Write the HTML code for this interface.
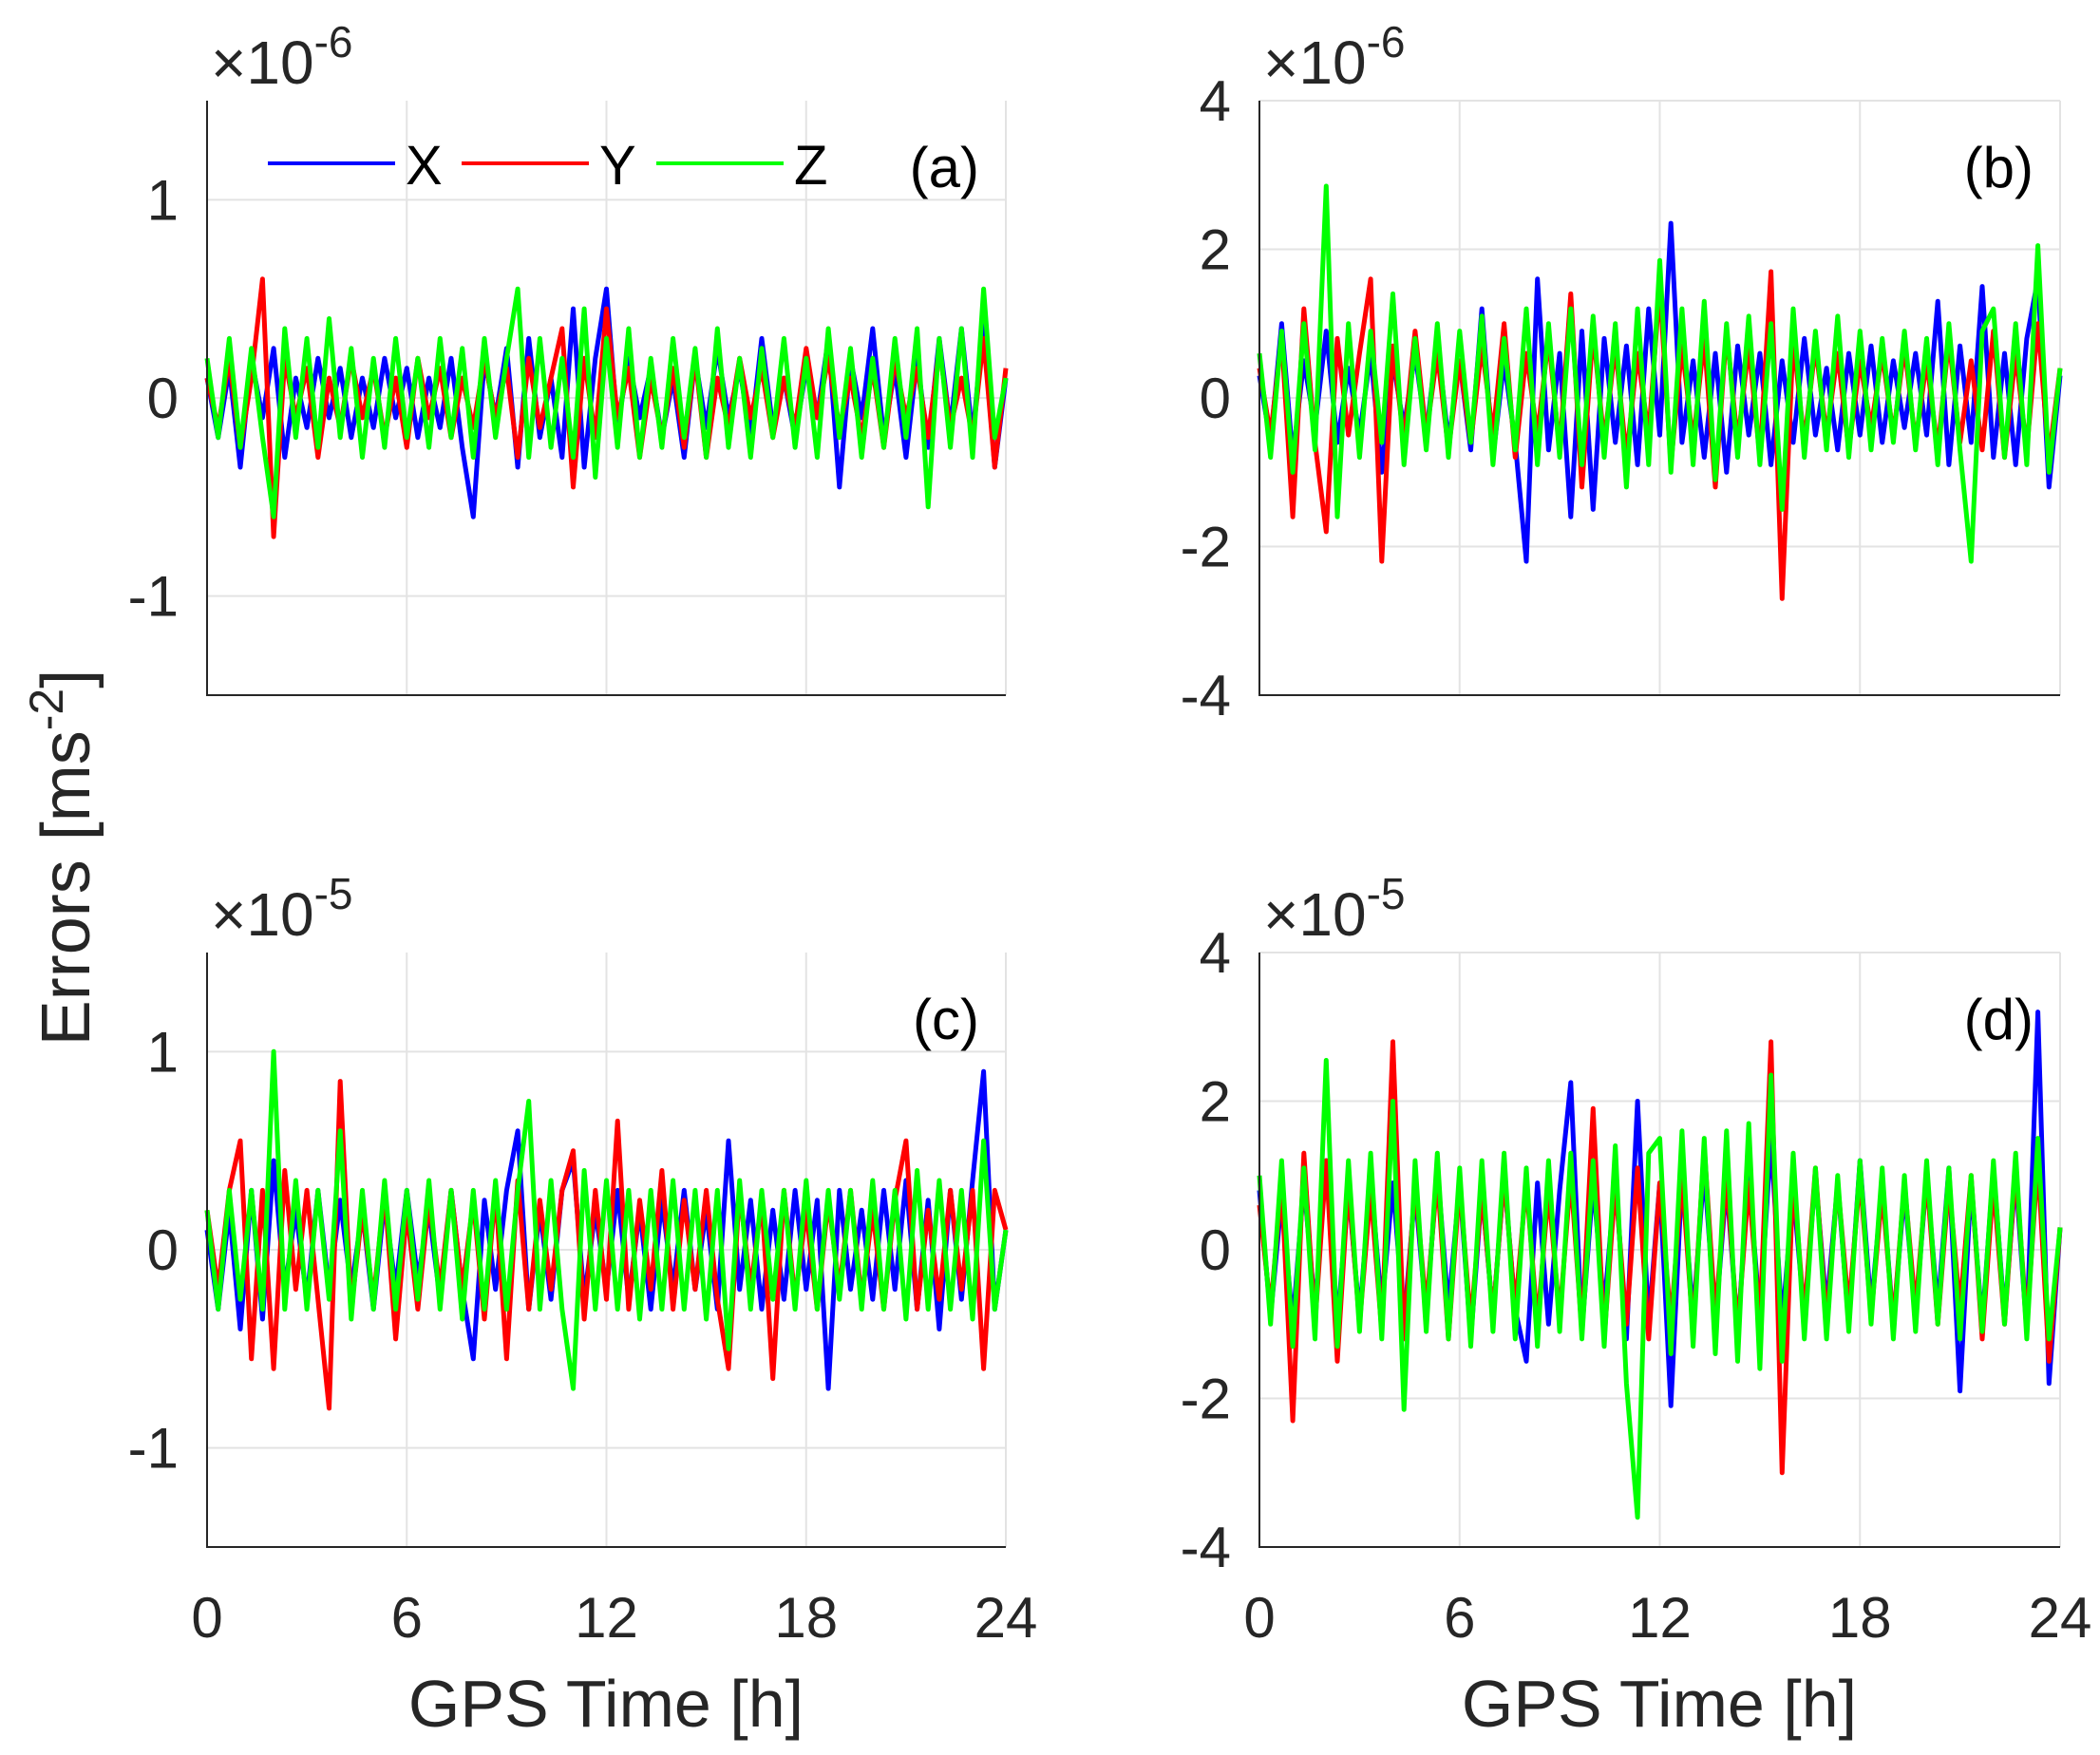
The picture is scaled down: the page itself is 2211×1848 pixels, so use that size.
<!DOCTYPE html>
<html><head><meta charset="utf-8"><style>
html,body{margin:0;padding:0;background:#fff}
svg{display:block;font-family:"Liberation Sans",sans-serif}
</style></head><body>
<svg id="fig" width="2211" height="1848" viewBox="0 0 2211 1848" xmlns="http://www.w3.org/2000/svg">
<text transform="translate(94,903) rotate(-90)" text-anchor="middle" font-size="72" fill="#262626">Errors [ms<tspan font-size="50" dy="-28">-2</tspan><tspan dy="28">]</tspan></text>
<text x="638" y="1818" text-anchor="middle" font-size="70" fill="#262626">GPS Time [h]</text>
<text x="1747" y="1818" text-anchor="middle" font-size="70" fill="#262626">GPS Time [h]</text>
</svg>
<script>
const hours=[0,6,12,18,24];
const aX=[0.1,-0.2,0.15,-0.35,0.2,-0.1,0.25,-0.3,0.1,-0.15,0.2,-0.1,0.15,-0.2,0.1,-0.15,0.2,-0.1,0.15,-0.2,0.1,-0.15,0.2,-0.25,-0.6,0.2,-0.1,0.25,-0.35,0.3,-0.2,0.1,-0.3,0.45,-0.35,0.2,0.55,-0.15,0.2,-0.1,0.15,-0.2,0.1,-0.3,0.2,-0.15,0.25,-0.1,0.15,-0.2,0.3,-0.15,0.1,-0.2,0.15,-0.1,0.3,-0.45,0.2,-0.1,0.35,-0.2,0.15,-0.3,0.2,-0.25,0.3,-0.15,0.35,-0.2,0.4,-0.35,0.1];
const aY=[0.1,-0.15,0.2,-0.25,0.1,0.6,-0.7,0.2,-0.1,0.15,-0.3,0.1,-0.15,0.2,-0.1,0.15,-0.2,0.1,-0.25,0.2,-0.1,0.15,-0.2,0.1,-0.15,0.2,-0.1,0.15,-0.3,0.2,-0.15,0.1,0.35,-0.45,0.2,-0.2,0.45,-0.1,0.15,-0.3,0.1,-0.2,0.15,-0.25,0.2,-0.3,0.1,-0.15,0.2,-0.1,0.15,-0.2,0.1,-0.15,0.25,-0.1,0.2,-0.15,0.1,-0.2,0.15,-0.25,0.2,-0.1,0.15,-0.2,0.25,-0.15,0.1,-0.2,0.3,-0.35,0.15];
const aZ=[0.2,-0.2,0.3,-0.25,0.25,-0.2,-0.6,0.35,-0.2,0.3,-0.25,0.4,-0.2,0.25,-0.3,0.2,-0.25,0.3,-0.2,0.2,-0.25,0.3,-0.2,0.25,-0.3,0.3,-0.2,0.2,0.55,-0.3,0.3,-0.25,0.2,-0.3,0.45,-0.4,0.3,-0.25,0.35,-0.3,0.2,-0.25,0.3,-0.2,0.25,-0.3,0.35,-0.25,0.2,-0.3,0.25,-0.2,0.3,-0.25,0.2,-0.3,0.35,-0.2,0.25,-0.3,0.2,-0.25,0.3,-0.2,0.35,-0.55,0.3,-0.25,0.35,-0.3,0.55,-0.2,0.1];
const bX=[0.3,-0.6,1.0,-0.8,0.5,-0.4,0.9,-0.6,0.4,-0.5,0.6,-1.0,0.5,-0.4,0.6,-0.5,0.8,-0.6,0.5,-0.7,1.2,-0.8,0.5,-0.6,-2.2,1.6,-0.7,0.6,-1.6,0.9,-1.5,0.8,-0.6,0.7,-0.9,1.2,-0.5,2.35,-0.6,0.5,-0.8,0.6,-1.0,0.7,-0.5,0.6,-0.9,0.5,-0.6,0.8,-0.5,0.4,-0.7,0.6,-0.5,0.7,-0.6,0.5,-0.4,0.6,-0.5,1.3,-0.9,0.7,-0.6,1.5,-0.8,0.6,-0.9,0.8,1.6,-1.2,0.3];
const bY=[0.4,-0.5,0.8,-1.6,1.2,-0.6,-1.8,0.8,-0.5,0.6,1.6,-2.2,0.7,-0.6,0.9,-0.5,0.6,-0.7,0.5,-0.6,0.7,-0.5,1.0,-0.8,0.6,-0.5,0.8,-0.7,1.4,-1.2,0.9,-0.6,0.7,-0.8,0.6,-0.5,1.5,-0.9,0.7,-0.6,0.8,-1.2,0.9,-0.6,0.7,-0.8,1.7,-2.7,0.8,-0.6,0.7,-0.5,0.6,-0.7,0.5,-0.4,0.6,-0.5,0.7,-0.6,0.5,-0.7,0.8,-0.6,0.5,-0.7,0.9,-0.8,0.6,-0.7,1.0,-0.8,0.4];
const bZ=[0.6,-0.8,0.9,-1.0,1.0,-0.7,2.85,-1.6,1.0,-0.8,0.9,-0.6,1.4,-0.9,0.8,-0.7,1.0,-0.8,0.9,-0.6,1.1,-0.9,0.8,-0.7,1.2,-0.9,1.0,-0.8,1.2,-0.9,1.1,-0.8,1.0,-1.2,1.2,-0.9,1.85,-1.0,1.2,-0.9,1.3,-1.1,1.0,-0.8,1.1,-0.9,1.0,-1.5,1.2,-0.8,0.9,-0.7,1.1,-0.8,0.9,-0.7,0.8,-0.6,0.9,-0.7,0.8,-0.9,1.0,-0.7,-2.2,0.9,1.2,-0.8,1.0,-0.9,2.05,-1.0,0.4];
const cX=[0.1,-0.3,0.2,-0.4,0.3,-0.35,0.45,-0.2,0.2,-0.25,0.3,-0.2,0.25,-0.2,0.2,-0.3,0.25,-0.2,0.3,-0.15,0.2,-0.25,0.3,-0.2,-0.55,0.25,-0.2,0.3,0.6,-0.3,0.2,-0.25,0.3,0.45,-0.25,0.2,-0.2,0.3,-0.25,0.2,-0.3,0.25,-0.2,0.3,-0.2,0.2,-0.3,0.55,-0.2,0.25,-0.3,0.2,-0.25,0.3,-0.2,0.25,-0.7,0.3,-0.2,0.2,-0.25,0.3,-0.2,0.35,-0.3,0.25,-0.4,0.3,-0.25,0.35,0.9,-0.3,0.1];
const cY=[0.2,-0.2,0.3,0.55,-0.55,0.3,-0.6,0.4,-0.2,0.3,-0.25,-0.8,0.85,-0.3,0.2,-0.25,0.3,-0.45,0.2,-0.3,0.25,-0.2,0.3,-0.2,0.25,-0.35,0.3,-0.55,0.35,-0.3,0.25,-0.2,0.3,0.5,-0.35,0.3,-0.25,0.65,-0.3,0.25,-0.2,0.4,-0.3,0.25,-0.2,0.3,-0.25,-0.6,0.3,-0.2,0.25,-0.65,0.3,-0.25,0.2,-0.3,0.25,-0.2,0.3,-0.25,0.2,-0.3,0.25,0.55,-0.3,0.2,-0.25,0.3,-0.2,0.3,-0.6,0.3,0.1];
const cZ=[0.2,-0.3,0.3,-0.25,0.3,-0.3,1.0,-0.3,0.35,-0.3,0.3,-0.25,0.6,-0.35,0.3,-0.3,0.35,-0.3,0.3,-0.25,0.35,-0.3,0.3,-0.35,0.3,-0.3,0.35,-0.3,0.3,0.75,-0.3,0.35,-0.3,-0.7,0.4,-0.3,0.35,-0.3,0.3,-0.35,0.3,-0.3,0.35,-0.3,0.3,-0.35,0.3,-0.5,0.35,-0.3,0.3,-0.25,0.3,-0.3,0.35,-0.3,0.3,-0.25,0.3,-0.3,0.35,-0.3,0.3,-0.35,0.4,-0.3,0.35,-0.3,0.3,-0.35,0.55,-0.3,0.1];
const dX=[0.8,-0.9,0.7,-1.0,0.9,-0.8,1.2,-1.0,0.8,-0.9,1.0,-0.8,0.9,-1.0,0.8,-0.9,1.1,-0.8,0.9,-1.2,0.8,-0.9,1.0,-0.8,-1.5,0.9,-1.0,0.8,2.25,-1.1,0.9,-0.8,1.0,-1.2,2.0,-1.0,0.9,-2.1,1.0,-0.9,1.1,-1.0,0.9,-1.1,1.0,-0.9,1.5,-1.0,0.8,-0.9,1.0,-0.8,0.9,-1.0,1.2,-0.8,0.9,-1.0,0.8,-0.9,1.0,-0.8,1.1,-1.9,0.9,-1.0,1.1,-0.9,1.0,-1.1,3.2,-1.8,0.3];
const dY=[0.6,-0.8,0.9,-2.3,1.3,-1.0,1.2,-1.5,0.9,-1.0,0.8,-1.1,2.8,-1.2,0.9,-0.8,1.0,-1.2,0.9,-1.0,0.8,-0.9,1.0,-0.8,0.9,-1.0,0.8,-0.9,1.0,-1.1,1.9,-1.2,0.9,-1.0,1.1,-1.2,0.9,-1.0,1.0,-1.1,1.4,-0.9,1.0,-1.1,0.9,-1.0,2.8,-3.0,1.0,-0.9,1.1,-1.0,0.9,-0.8,1.0,-0.9,0.8,-1.0,0.9,-0.8,1.0,-1.0,0.9,-0.8,1.0,-1.2,0.9,-1.0,1.1,-1.0,1.2,-1.5,0.3];
const dZ=[1.0,-1.0,1.2,-1.3,1.1,-1.2,2.55,-1.3,1.2,-1.1,1.3,-1.2,2.0,-2.15,1.2,-1.1,1.3,-1.2,1.1,-1.3,1.2,-1.1,1.3,-1.2,1.1,-1.3,1.2,-1.1,1.3,-1.2,1.2,-1.3,1.4,-1.8,-3.6,1.3,1.5,-1.4,1.6,-1.3,1.5,-1.4,1.6,-1.5,1.7,-1.6,2.35,-1.5,1.3,-1.2,1.1,-1.2,1.0,-1.1,1.2,-1.0,1.1,-1.2,1.0,-1.1,1.2,-1.0,1.1,-1.2,1.0,-1.1,1.2,-1.0,1.3,-1.2,1.5,-1.2,0.3];
const ticksSmall=[-1,0,1];
const ticksBig=[-4,-2,0,2,4];

const NS="http://www.w3.org/2000/svg";
const svg=document.getElementById('fig');
function mk(tag,attrs,parent){const e=document.createElementNS(NS,tag);for(const k in attrs)e.setAttribute(k,attrs[k]);(parent||svg).appendChild(e);return e;}

const panels=[
 {id:'a',x0:218,x1:1059,y0:106,y1:732,ymin:-1.5,ymax:1.5,ticks:ticksSmall,exp:'-6',s:[aX,aY,aZ],legend:true},
 {id:'b',x0:1326,x1:2169,y0:106,y1:732,ymin:-4,ymax:4,ticks:ticksBig,exp:'-6',s:[bX,bY,bZ]},
 {id:'c',x0:218,x1:1059,y0:1003,y1:1629,ymin:-1.5,ymax:1.5,ticks:ticksSmall,exp:'-5',s:[cX,cY,cZ],xt:true},
 {id:'d',x0:1326,x1:2169,y0:1003,y1:1629,ymin:-4,ymax:4,ticks:ticksBig,exp:'-5',s:[dX,dY,dZ],xt:true}
];
const colors=['#0000ff','#ff0000','#00ff00'];
const names=['x','y','z'];
panels.forEach(p=>{
 const g=mk('g',{});
 
 
 const sx=h=>p.x0+(h-0)/24*(p.x1-p.x0);
 const sy=v=>p.y1-(v-p.ymin)/(p.ymax-p.ymin)*(p.y1-p.y0);
 hours.forEach(h=>{
  const l=mk('line',{x1:sx(h),x2:sx(h),y1:p.y0,y2:p.y1,stroke:'#e3e3e3','stroke-width':2},g);
  
  
  if(p.xt){const t=mk('text',{x:sx(h),y:1724,'text-anchor':'middle','font-size':60,fill:'#262626'},g);t.textContent=h;
   
   }
 });
 p.ticks.forEach(v=>{
  const l=mk('line',{x1:p.x0,x2:p.x1,y1:sy(v),y2:sy(v),stroke:'#e3e3e3','stroke-width':2},g);
  
  
  const t=mk('text',{x:p.x0-30,y:sy(v)+21,'text-anchor':'end','font-size':60,fill:'#262626'},g);t.textContent=String(v);
  
  
 });
 p.s.forEach((arr,k)=>{
  const n=arr.length;
  const d=arr.map((v,i)=>(i?'L':'M')+sx(i/(n-1)*24).toFixed(1)+','+sy(v).toFixed(1)).join('');
  const path=mk('path',{d:d,fill:'none',stroke:colors[k],'stroke-width':5,'stroke-linejoin':'round'},g);
  
  
 });
 const ax=mk('path',{d:`M${p.x0},${p.y0}V${p.y1}H${p.x1}`,fill:'none',stroke:'#262626','stroke-width':2},g);
 
 
 const ex=mk('text',{x:p.x0+4,y:p.y0-18,'font-size':64,fill:'#262626'},g);
 ex.innerHTML='×10<tspan font-size="46" dy="-28">'+p.exp+'</tspan>';
 
 
 const pl=mk('text',{x:p.x1-28,y:p.y0+91,'text-anchor':'end','font-size':60,fill:'#000'},g);
 pl.textContent='('+p.id+')';
 
 
 if(p.legend){
  const lx=[282,486,691],lab=['X','Y','Z'];
  lx.forEach((x,k)=>{
   const lg=mk('g',{},g);
   
   
   mk('line',{x1:x,x2:x+134,y1:172,y2:172,stroke:colors[k],'stroke-width':4},lg);
   const t=mk('text',{x:x+145,y:194,'font-size':58,fill:'#000'},lg);t.textContent=lab[k];
  });
 }
});
</script>
</body></html>
